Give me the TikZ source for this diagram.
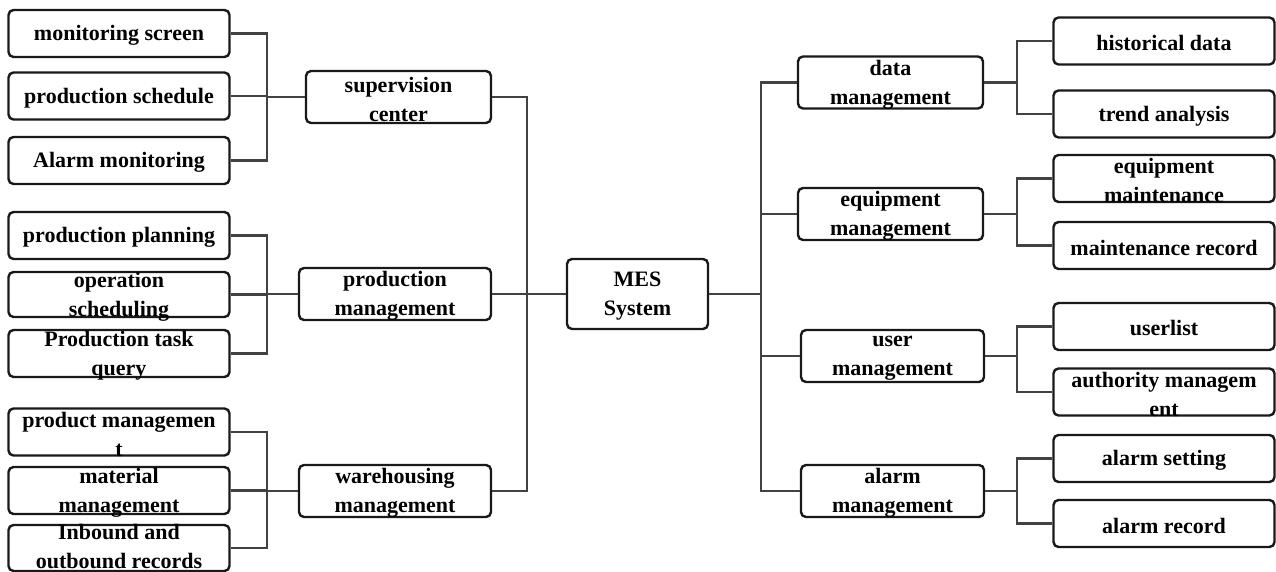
\documentclass[tikz,border=0pt]{standalone}
\usepackage{fontspec}
\setmainfont{Liberation Serif}
\usepackage{tikz}

\tikzstyle{leaf} = [rectangle, draw=black!90, line width=1.2pt, rounded corners=2.5pt, minimum width=110.5pt, minimum height=23.5pt, inner sep=0pt]
\tikzstyle{module} = [leaf, minimum width=92.5pt, minimum height=26pt]
\tikzstyle{core} = [leaf, minimum width=70.5pt, minimum height=35pt]
\tikzstyle{link} = [line width=1.1pt, draw=black!74]
\tikzset{every label/.style={align=center, inner sep=0pt, text=black, yshift=-1pt}}

\begin{document}
\begin{tikzpicture}[x=0.5pt, y=-0.5pt, font=\fontsize{11}{14.5}\selectfont\bfseries]
    \useasboundingbox (0,0) rectangle (1276,572);

    % centre
    \node (mes) [core, label=center:{MES\\System}] at (637.5,294) {};

    % left branch
    \node (sup) [module, label=center:{supervision\\center}] at (398.5,97) {};
    \node (prod) [module, minimum width=96pt, label=center:{production\\management}] at (395,294) {};
    \node (ware) [module, minimum width=96pt, label=center:{warehousing\\management}] at (395,491) {};

    \node (mon) [leaf, label=center:{monitoring screen}] at (119,33.5) {};
    \node (psch) [leaf, label=center:{production schedule}] at (119,96) {};
    \node (alm) [leaf, label=center:{Alarm monitoring}] at (119,160.5) {};
    \node (plan) [leaf, label=center:{production planning}] at (119,235.5) {};
    \node (opsch) [leaf, minimum height=22.5pt, label=center:{operation\\scheduling}] at (119,294.5) {};
    \node (task) [leaf, label=center:{Production task\\query}] at (119,353.5) {};
    \node (prdm) [leaf, label=center:{product managemen\\t}] at (119,432) {};
    \node (matm) [leaf, label=center:{material\\management}] at (119,490.5) {};
    \node (inout) [leaf, minimum height=23pt, label={[yshift=1.5pt]center:{Inbound and\\outbound records}}] at (119,548) {};

    % right branch
    \node (data) [module, label=center:{data\\management}] at (890.5,82.5) {};
    \node (equip) [module, label=center:{equipment\\management}] at (890.5,214) {};
    \node (user) [module, minimum width=91.5pt, label=center:{user\\management}] at (892.5,356) {};
    \node (alarm) [module, minimum width=91.5pt, label=center:{alarm\\management}] at (892.5,491) {};

    \node (hist) [leaf, label=center:{historical data}] at (1164,41) {};
    \node (trend) [leaf, label=center:{trend analysis}] at (1164,114) {};
    \node (eqmt) [leaf, label=center:{equipment\\maintenance}] at (1164,178.5) {};
    \node (mrec) [leaf, label=center:{maintenance record}] at (1164,245.5) {};
    \node (ulist) [leaf, label=center:{userlist}] at (1164,326.5) {};
    \node (auth) [leaf, label=center:{authority managem\\ent}] at (1164,392) {};
    \node (aset) [leaf, label=center:{alarm setting}] at (1164,458.5) {};
    \node (arec) [leaf, label=center:{alarm record}] at (1164,523.5) {};

    % buses around the centre
    \draw [link] (mes.west) -- ++(-39,0) coordinate (lbus);
    \draw [link] (sup.east) -| (lbus) |- (ware.east);
    \draw [link] (prod.east) -- (lbus);
    \draw [link] (mes.east) -- ++(52,0) coordinate (rbus);
    \draw [link] (data.west) -| (rbus) |- (alarm.west);
    \draw [link] (equip.west) -- (equip.west -| rbus);
    \draw [link] (user.west) -- (user.west -| rbus);

    % left sub buses
    \draw [link] (sup.west) -- ++(-38,0) coordinate (supbus);
    \draw [link] (mon.east) -| (supbus) |- (alm.east);
    \draw [link] (psch.east) -- (psch.east -| supbus);
    \draw [link] (prod.west) -- ++(-31,0) coordinate (prodbus);
    \draw [link] (plan.east) -| (prodbus) |- (task.east);
    \draw [link] (opsch.east) -- (opsch.east -| prodbus);
    \draw [link] (ware.west) -- ++(-31,0) coordinate (warebus);
    \draw [link] (prdm.east) -| (warebus) |- (inout.east);
    \draw [link] (matm.east) -- (matm.east -| warebus);

    % right sub buses
    \draw [link] (data.east) -- ++(33,0) coordinate (databus);
    \draw [link] (hist.west) -| (databus) |- (trend.west);
    \draw [link] (equip.east) -- ++(33,0) coordinate (equipbus);
    \draw [link] (eqmt.west) -| (equipbus) |- (mrec.west);
    \draw [link] (user.east) -- ++(32,0) coordinate (userbus);
    \draw [link] (ulist.west) -| (userbus) |- (auth.west);
    \draw [link] (alarm.east) -- ++(32,0) coordinate (alarmbus);
    \draw [link] (aset.west) -| (alarmbus) |- (arec.west);
\end{tikzpicture}
\end{document}
